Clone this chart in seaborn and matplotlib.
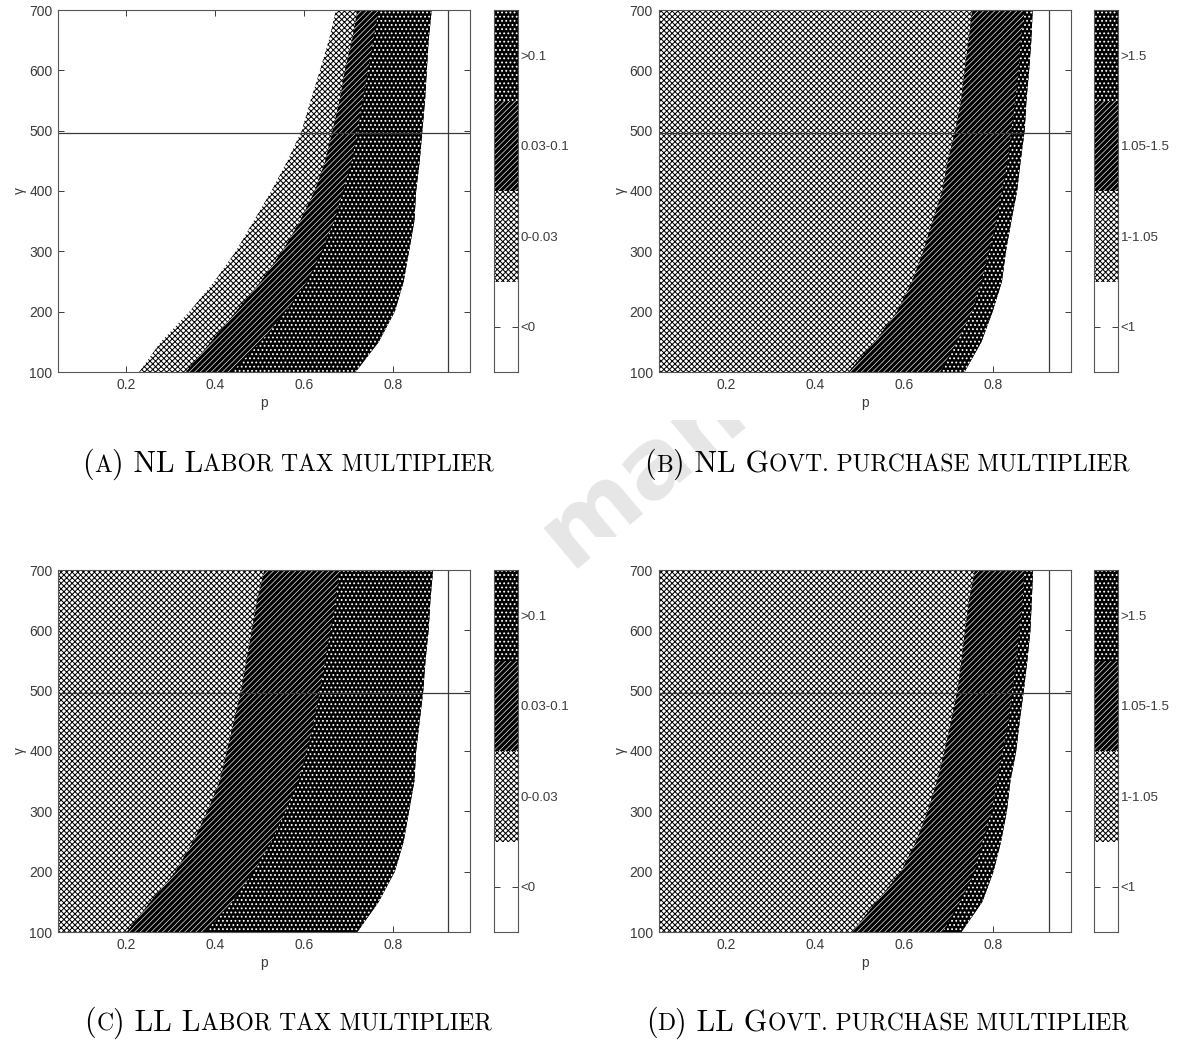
import numpy as np
import matplotlib
matplotlib.use("Agg")
import matplotlib.pyplot as plt
import seaborn as sns
from matplotlib.offsetbox import TextArea, HPacker, AnnotationBbox
from matplotlib.transforms import Bbox, IdentityTransform
from matplotlib.patches import Rectangle

gamma = [100, 150, 200, 250, 300, 350, 400, 450, 500, 550, 600, 650, 700]

# (a) NL labor tax multiplier: p where 0-0.03, 0.03-0.1, >0.1 start and where >0.1 ends
a_cross = [0.230, 0.279, 0.343, 0.399, 0.447, 0.487, 0.527, 0.563, 0.595, 0.615, 0.636, 0.656, 0.672]
a_diag = [0.335, 0.391, 0.447, 0.503, 0.551, 0.591, 0.624, 0.648, 0.664, 0.680, 0.692, 0.708, 0.720]
a_dots = [0.439, 0.503, 0.559, 0.607, 0.640, 0.668, 0.688, 0.708, 0.720, 0.732, 0.744, 0.756, 0.768]
a_end = [0.716, 0.768, 0.804, 0.824, 0.836, 0.848, 0.852, 0.860, 0.866, 0.872, 0.876, 0.880, 0.887]

# (b) NL govt. purchase multiplier (1-1.05 starts at the left edge)
b_diag = [0.474, 0.533, 0.583, 0.617, 0.642, 0.663, 0.685, 0.697, 0.714, 0.727, 0.735, 0.744, 0.752]
b_dots = [0.680, 0.718, 0.752, 0.773, 0.790, 0.807, 0.819, 0.832, 0.840, 0.849, 0.857, 0.861, 0.870]
b_end = [0.735, 0.773, 0.798, 0.819, 0.828, 0.840, 0.853, 0.861, 0.870, 0.874, 0.880, 0.885, 0.888]

# (c) LL labor tax multiplier
c_diag = [0.202, 0.255, 0.311, 0.351, 0.383, 0.411, 0.427, 0.443, 0.459, 0.471, 0.483, 0.495, 0.511]
c_dots = [0.379, 0.439, 0.487, 0.527, 0.559, 0.587, 0.607, 0.623, 0.636, 0.648, 0.660, 0.672, 0.680]
c_end = [0.720, 0.768, 0.804, 0.824, 0.836, 0.848, 0.852, 0.860, 0.868, 0.873, 0.880, 0.884, 0.890]

# (d) LL govt. purchase multiplier
d_diag = [0.482, 0.537, 0.592, 0.626, 0.652, 0.673, 0.690, 0.705, 0.719, 0.728, 0.736, 0.745, 0.758]
d_dots = [0.686, 0.724, 0.758, 0.775, 0.796, 0.808, 0.821, 0.834, 0.842, 0.851, 0.859, 0.866, 0.869]
d_end = [0.728, 0.775, 0.800, 0.817, 0.830, 0.838, 0.851, 0.859, 0.868, 0.876, 0.883, 0.886, 0.889]

tax_labels = ["<0", "0-0.03", "0.03-0.1", ">0.1"]
gov_labels = ["<1", "1-1.05", "1.05-1.5", ">1.5"]

p_ticks = [0.2, 0.4, 0.6, 0.8]
g_ticks = [100, 200, 300, 400, 500, 600, 700]
p_lim = (0.048, 0.973)
g_lim = (100, 700)
h_line = 496
v_line = 0.924

captions = [
    [("(", 1), ("A", 0), (") NL L", 1), ("ABOR TAX MULTIPLIER", 0)],
    [("(", 1), ("B", 0), (") NL G", 1), ("OVT. PURCHASE MULTIPLIER", 0)],
    [("(", 1), ("C", 0), (") LL L", 1), ("ABOR TAX MULTIPLIER", 0)],
    [("(", 1), ("D", 0), (") LL G", 1), ("OVT. PURCHASE MULTIPLIER", 0)],
]

sns.set_theme(style="ticks")
plt.rcParams['font.family'] = ['Liberation Sans', 'DejaVu Sans']
plt.rcParams['hatch.linewidth'] = 0.7

grey = '#3a3a3a'

# fill style of each band: face colour, hatch, hatch colour, hatch width
band_styles = [
    ('white', 'xxxxxx', 'black', 0.72),
    ('black', '//////', 'white', 0.45),
    ('black', '....', 'white', 0.8),
]


def hatched(ax, fill, a, b, c, style):
    face, hatch, hc, hlw = style
    with plt.rc_context({'hatch.linewidth': hlw, 'hatch.color': hc}):
        coll = fill(a, b, c, facecolor=face, hatch=hatch, edgecolor=hc, linewidth=0)
    if hasattr(coll, 'set_hatch_linewidth'):
        coll.set_hatch_linewidth(hlw)
    return coll


def style_spines(ax):
    for s in ax.spines.values():
        s.set_color('#555555')
        s.set_linewidth(0.8)


def draw_panel(ax, cax, starts, end, labels):
    # each band is drawn from its start to the end of the dotted band, layered
    for x_start, style in zip(starts, band_styles):
        hatched(ax, ax.fill_betweenx, gamma, x_start, end, style)
    ax.axhline(h_line, color=grey, lw=0.9)
    ax.axvline(v_line, color=grey, lw=0.9)
    ax.set_xlim(*p_lim)
    ax.set_ylim(*g_lim)
    ax.set_xticks(p_ticks)
    ax.set_xticklabels([f"{t:.1f}" for t in p_ticks])
    ax.set_yticks(g_ticks)
    ax.set_xlabel("p", fontsize=10, color=grey, labelpad=3)
    ax.set_ylabel("γ", fontsize=10, color=grey, labelpad=1.5)
    ax.tick_params(direction='in', length=4, width=0.7, top=True, right=True,
                   labelsize=10, labelcolor=grey, color=grey, pad=4)
    style_spines(ax)

    # legend bar with the four bands
    cax.set_xlim(0, 1)
    cax.set_ylim(0, 4)
    for i, style in enumerate(band_styles):
        hatched(cax, cax.fill_between, [0, 1], i + 1, i + 2, style)
    cax.set_xticks([])
    cax.set_yticks([0.5, 1.5, 2.5, 3.5])
    cax.set_yticklabels(labels)
    cax.yaxis.tick_right()
    cax.tick_params(axis='y', direction='in', length=4, width=0.7, left=True,
                    right=True, labelsize=9.5, labelcolor=grey, color=grey, pad=2)
    style_spines(cax)


W, H = 1177, 1041
fig = plt.figure(figsize=(W / 100, H / 100), dpi=100)
fig.patch.set_facecolor('white')

ax_w, ax_h, cb_w = 412 / W, 362 / H, 24 / W
cols = [(58 / W, 494 / W), (658.5 / W, 1094 / W)]
rows = [(H - 372) / H, (H - 932) / H]

panels = [
    ((a_cross, a_diag, a_dots), a_end, tax_labels),
    ((p_lim[0], b_diag, b_dots), b_end, gov_labels),
    ((p_lim[0], c_diag, c_dots), c_end, tax_labels),
    ((p_lim[0], d_diag, d_dots), d_end, gov_labels),
]

for k, (starts, end, labels) in enumerate(panels):
    r, c = divmod(k, 2)
    ax = fig.add_axes([cols[c][0], rows[r], ax_w, ax_h])
    cax = fig.add_axes([cols[c][1], rows[r], cb_w, ax_h])
    draw_panel(ax, cax, starts, end, labels)

# small-caps style captions under each panel
cap_pos = [(288, 464), (887, 464), (288, 1023), (887, 1023)]
big, small = 21.5, 17
for parts, (cx, cy) in zip(captions, cap_pos):
    boxes = [TextArea(s, textprops=dict(family='cmr10', size=big if b else small,
                                        color='black')) for s, b in parts]
    pack = HPacker(children=boxes, align='baseline', pad=0, sep=0)
    ab = AnnotationBbox(pack, (cx / W, 1 - cy / H), xycoords='figure fraction',
                        frameon=False, box_alignment=(0.5, 0.5), pad=0)
    fig.add_artist(ab)

# faint watermark, only visible in the gap between the sub-figures
wm = fig.text(570 / W, 472 / H, "manuscript", rotation=40, rotation_mode='anchor',
              ha='left', va='baseline', fontsize=70, fontweight='bold',
              family='DejaVu Sans', color='#e6e6e6', zorder=-5)
wm.set_clip_box(Bbox([[540, 0], [800, H - 420]]))
fig.add_artist(Rectangle((593, 0), W - 593, H - 537, transform=IdentityTransform(),
                         facecolor='white', edgecolor='none', zorder=-4))

fig.savefig("out.png", dpi=100, facecolor='white')
